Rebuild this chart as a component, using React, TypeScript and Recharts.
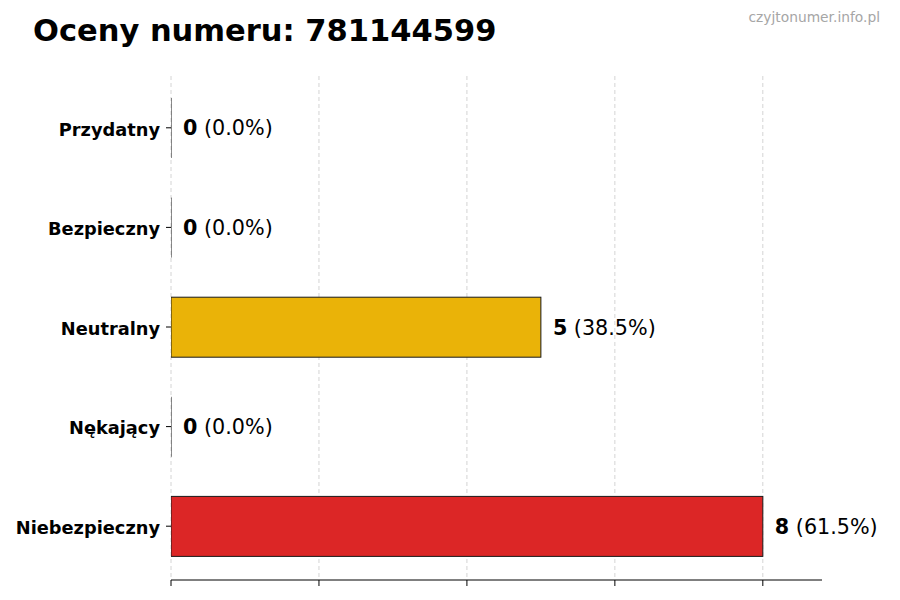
import React from 'react';
import { BarChart, Bar, XAxis, YAxis, CartesianGrid, Cell } from 'recharts';

const categories = ['Przydatny', 'Bezpieczny', 'Neutralny', 'Nękający', 'Niebezpieczny'];
const counts = [0, 0, 5, 0, 8];
const barColors = ['#22C55E', '#3B82F6', '#EAB308', '#F97316', '#DC2626'];
const xTicks = [0, 2, 4, 6, 8];
const xMax = 8.8;
const titleText = 'Oceny numeru: 781144599';
const watermark = 'czyjtonumer.info.pl';

const total = counts.reduce((a, b) => a + b, 0);
const data = categories.map((name, i) => ({ name, value: counts[i] }));

const FONT = 'DejaVu Sans, sans-serif';

const BarShape = (props: any) => {
  const { x, y, width, height, fill } = props;
  if (!(width > 0.5)) {
    return <line x1={x} x2={x} y1={y} y2={y + height} stroke="#1a1a1a" strokeWidth={1} />;
  }
  return <rect x={x} y={y} width={width} height={height} fill={fill} stroke="#1a1a1a" strokeWidth={1} />;
};

const renderLabel = (props: any) => {
  const { x, y, width, height, index } = props;
  const v = counts[index];
  const pct = total > 0 ? ((v / total) * 100).toFixed(1) : '0.0';
  return (
    <text
      x={x + (width || 0) + 12}
      y={y + height / 2}
      dy="0.36em"
      fontSize={20.7}
      fontFamily={FONT}
      fill="#000"
      textAnchor="start"
    >
      <tspan fontWeight="bold">{v}</tspan>
      <tspan> ({pct}%)</tspan>
    </text>
  );
};

const gridX = (props: any) => {
  try {
    const s = props?.xAxis?.scale;
    let f: ((t: number) => number) | null = null;
    if (typeof s === 'function') f = (t) => s(t);
    else if (s && typeof s.map === 'function') f = (t) => s.map(t);
    else if (s && typeof s.apply === 'function') f = (t) => s.apply(t);
    if (f) {
      const out = xTicks.map((t) => f!(t));
      if (out.every((v) => typeof v === 'number' && isFinite(v))) return out;
    }
    const off = props?.offset;
    if (off) return xTicks.map((t) => off.left + (t / xMax) * off.width);
  } catch (e) {
    // ignore
  }
  return [];
};

export default function App() {
  return (
    <div style={{ position: 'absolute', left: 0, top: 0, width: 900, height: 600, background: '#fff', fontFamily: FONT }}>
      <BarChart
        width={900}
        height={600}
        data={data}
        layout="vertical"
        margin={{ top: 76, right: 78, bottom: 0, left: 0 }}
      >
        <CartesianGrid
          horizontal={false}
          vertical={true}
          stroke="#d4d4d4"
          strokeDasharray="4 3"
          verticalCoordinatesGenerator={gridX}
        />
        <XAxis
          type="number"
          domain={[0, xMax]}
          ticks={xTicks}
          tickFormatter={() => ''}
          tickSize={6}
          height={20}
          axisLine={{ stroke: '#000' }}
          tickLine={{ stroke: '#000' }}
          allowDataOverflow
        />
        <YAxis
          type="category"
          dataKey="name"
          width={171}
          padding={{ top: 2, bottom: 4 }}
          axisLine={false}
          tickLine={{ stroke: '#000' }}
          tickSize={5}
          tickMargin={6}
          tick={{ fontSize: 17.8, fontWeight: 'bold', fill: '#000', fontFamily: FONT, dy: 1.5 }}
        />
        <Bar dataKey="value" barSize={60} isAnimationActive={false} shape={BarShape} label={renderLabel}>
          {data.map((d, i) => (
            <Cell key={d.name} fill={barColors[i]} />
          ))}
        </Bar>
      </BarChart>
      <svg width={900} height={70} style={{ position: 'absolute', left: 0, top: 0, pointerEvents: 'none' }}>
        <text x={33} y={41} fontSize={30.5} fontWeight="bold" fontFamily={FONT} fill="#000">
          {titleText}
        </text>
        <text x={880} y={22} fontSize={13.8} fontFamily={FONT} fill="#a6a6a6" textAnchor="end">
          {watermark}
        </text>
      </svg>
    </div>
  );
}
